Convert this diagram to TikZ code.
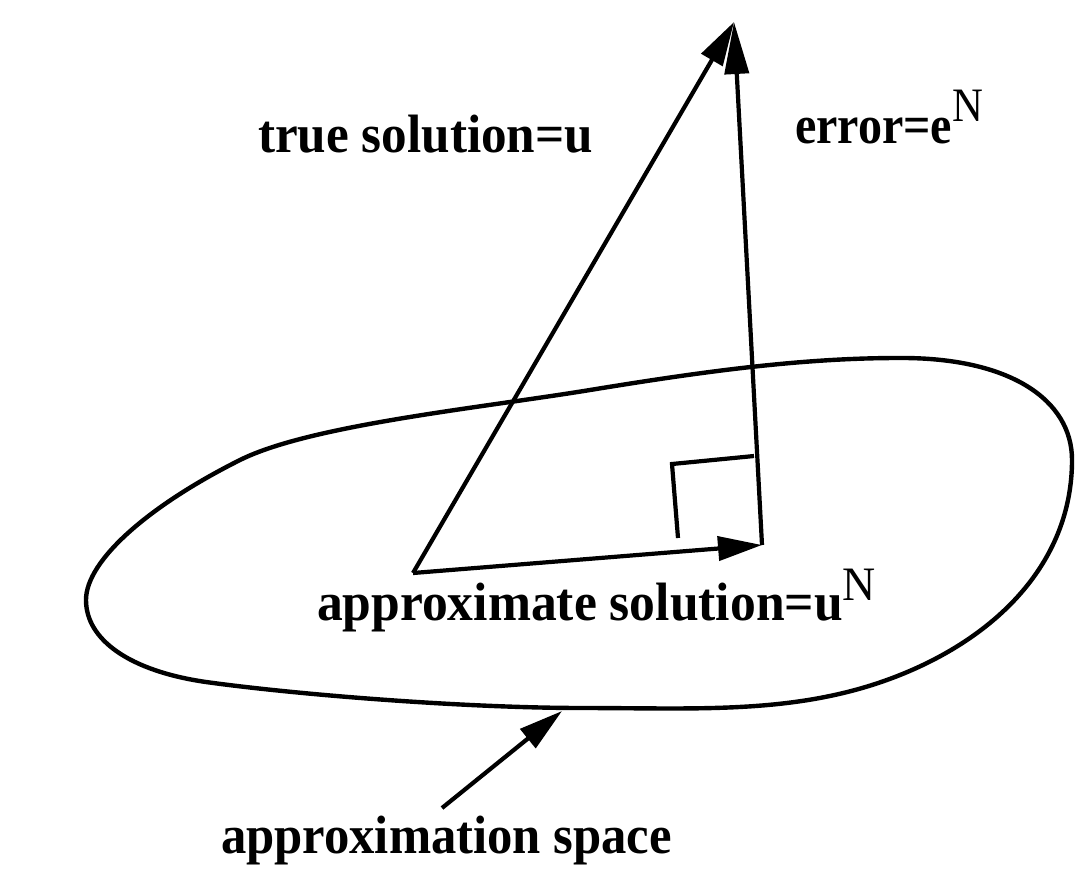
\documentclass[tikz,border=0pt]{standalone}
\usepackage{fontspec}
\usepackage{graphicx}
\setmainfont{Liberation Serif}
\usetikzlibrary{arrows.meta}
\tikzset{
  lbl/.style={anchor=base west, inner sep=0pt, outer sep=0pt, font=\fontsize{54}{54}\selectfont\bfseries},
  vec/.style={line width=4.2pt, -{Triangle[length=44pt,width=24pt]}},
  plain/.style={line width=4.2pt},
}
\newcommand{\supN}[1]{\raisebox{#1}{\fontsize{48}{48}\selectfont\mdseries N}}
\begin{document}
\begin{tikzpicture}[x=1pt,y=-1pt]
\useasboundingbox (0,0) rectangle (1075,895);
% approximation space
\draw[plain, line width=4.4pt, line join=round]
  (898,358) .. controls (1010,357) and (1072,400) .. (1072,460)
  .. controls (1072,560) and (1000,635) .. (900,675)
  .. controls (800,715) and (700,708) .. (583,708)
  .. controls (466,708) and (300,695) .. (206,682)
  .. controls (130,671) and (86,640) .. (86,600)
  .. controls (86,560) and (150,505) .. (240,460)
  .. controls (310,425) and (480,408) .. (590,390)
  .. controls (700,372) and (800,358) .. cycle;
% points
\coordinate (A) at (413,573);
\coordinate (B) at (762,545);
\coordinate (T) at (734,22);
\coordinate (R1) at (678,538);
\coordinate (R2) at (672,464);
\coordinate (R3) at (754,456);
\coordinate (P0) at (442,808);
\coordinate (P1) at (562,711);
% vectors
\draw[vec] (A) -- (T);
\draw[vec] (A) -- (B);
\draw[line width=4.2pt, -{Triangle[length=52pt,width=24pt]}] (B) -- (T);
\draw[plain] (R1) -- (R2) -- (R3);
\draw[vec] (P0) -- (P1);
% labels
\node[lbl] (ltrue) at (258,152) {\resizebox{335pt}{\height}{true solution=u}};
\node[lbl] (lerr) at (795,143) {\resizebox{188pt}{\height}{error=e\supN{22pt}}};
\node[lbl] (lapp) at (317,620) {\resizebox{559pt}{\height}{approximate solution=u\supN{20pt}}};
\node[lbl] (lspace) at (221,853) {\resizebox{451pt}{\height}{approximation space}};
\end{tikzpicture}
\end{document}
